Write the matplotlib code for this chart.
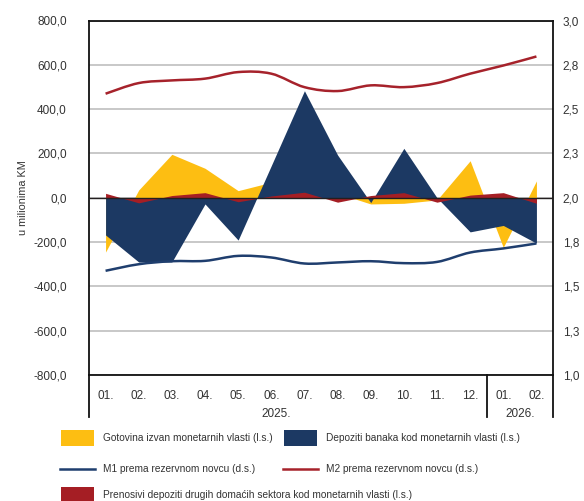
import matplotlib
matplotlib.use("Agg")
import matplotlib.pyplot as plt
import matplotlib.transforms as mtransforms
from matplotlib.path import Path
from matplotlib.patches import PathPatch, Rectangle
from matplotlib.lines import Line2D
import numpy as np

# months, 2025. (01.-12.) and 2026. (01.-02.)
months = ["01.", "02.", "03.", "04.", "05.", "06.", "07.", "08.", "09.", "10.",
          "11.", "12.", "01.", "02."]
years = ["2025.", "2026."]

# left axis, u milionima KM
gotovina = [-245, 35, 196, 133, 32, 70, 40, 20, -28, -25, -10, 167, -224, 76]
depoziti = [-168, -290, -290, -28, -191, 145, 483, 193, -22, 223, 0, -154, -125, -205]
prenosivi = [20, -23, 10, 23, -18, 8, 25, -20, 10, 23, -20, 12, 23, -25]

# right axis, multiplikatori
m1 = [1.588, 1.625, 1.642, 1.644, 1.672, 1.663, 1.629, 1.635, 1.642, 1.631,
      1.638, 1.691, 1.714, 1.742]
m2 = [2.587, 2.647, 2.662, 2.672, 2.709, 2.700, 2.624, 2.602, 2.634, 2.624,
      2.647, 2.700, 2.746, 2.797]

left_ticks = [-800, -600, -400, -200, 0, 200, 400, 600, 800]
right_ticks = [1.0, 1.25, 1.5, 1.75, 2.0, 2.25, 2.5, 2.75, 3.0]
right_labels = ["1,0", "1,3", "1,5", "1,8", "2,0", "2,3", "2,5", "2,8", "3,0"]

YELLOW = "#FDBE12"
NAVY = "#1C3963"
RED = "#A51E24"
TXT = "#333333"
FONT = ["Liberation Sans", "DejaVu Sans"]


def smooth_path(xs, ys):
    # bezier curve through the points, like Excel's smoothed line
    pts = np.column_stack([xs, ys]).astype(float)
    n = len(pts)
    verts = [pts[0]]
    codes = [Path.MOVETO]
    for i in range(n - 1):
        p0 = pts[i - 1] if i > 0 else pts[i]
        p1 = pts[i]
        p2 = pts[i + 1]
        p3 = pts[i + 2] if i + 2 < n else pts[i + 1]
        c1 = p1 + (p2 - p0) / 6.0
        c2 = p2 - (p3 - p1) / 6.0
        verts += [c1, c2, p2]
        codes += [Path.CURVE4] * 3
    return Path(verts, codes)


W, H = 584, 501
fig = plt.figure(figsize=(W / 100, H / 100), dpi=100)
ax = fig.add_axes([89 / W, 1 - 375 / H, (553 - 89) / W, (375 - 20.5) / H])

x = np.arange(len(months))
ax.fill_between(x, 0, gotovina, color=YELLOW, lw=0, zorder=2)
ax.fill_between(x, 0, depoziti, color=NAVY, lw=0, zorder=3)
ax.fill_between(x, 0, prenosivi, color=RED, lw=0, zorder=4)
ax.axhline(0, color="#231F20", lw=1.0, zorder=6)

ax.set_xlim(-0.5, len(months) - 0.5)
ax.set_ylim(-800, 800)
ax.set_yticks(left_ticks)
ax.set_yticklabels([f"{v:.1f}".replace(".", ",") for v in left_ticks],
                   family=FONT, fontsize=8.5, color=TXT)
ax.yaxis.grid(True, color="#BFBFBF", lw=1.2, zorder=0)
ax.set_axisbelow(True)
ax.tick_params(axis="y", length=0, pad=16)
ax.set_xticks(x)
ax.set_xticklabels(months, family=FONT, fontsize=8.5, color=TXT)
ax.tick_params(axis="x", length=0, pad=11)
for s in ax.spines.values():
    s.set_color("#111111")
    s.set_linewidth(1.3)

ax2 = ax.twinx()
ax2.set_ylim(1.0, 3.0)
ax2.set_yticks(right_ticks)
ax2.set_yticklabels(right_labels, family=FONT, fontsize=8.5, color=TXT)
ax2.tick_params(axis="y", length=0, pad=7)
for s in ax2.spines.values():
    s.set_visible(False)
ax2.add_patch(PathPatch(smooth_path(x, m1), fill=False, edgecolor="#1F3E6E",
                        lw=1.8, zorder=5))
ax2.add_patch(PathPatch(smooth_path(x, m2), fill=False, edgecolor="#A6222B",
                        lw=1.8, zorder=5))

# category table below the plot
trans = mtransforms.blended_transform_factory(ax.transData, ax.transAxes)
depth = -(417 - 375) / (375 - 20.5)
for xv in [-0.5, 11.5, len(months) - 0.5]:
    ax.add_line(Line2D([xv, xv], [0, depth], transform=trans, color="#111111",
                       lw=1.3, clip_on=False))
ax.text(5.15, -0.11, years[0], transform=trans, ha="center", va="center",
        family=FONT, fontsize=8.5, color=TXT)
ax.text(12.5, -0.11, years[1], transform=trans, ha="center", va="center",
        family=FONT, fontsize=8.5, color=TXT)

fig.text(23 / W, 1 - 198 / H, "u milionima KM", rotation=90, ha="center",
         va="center", family=FONT, fontsize=7.8, color=TXT)

# legend drawn by hand
def fx(px):
    return px / W


def fy(py):
    return 1 - py / H


def patch_item(x0, y0, h, color, label):
    fig.add_artist(Rectangle((fx(x0), fy(y0 + h)), 33 / W, h / H,
                             transform=fig.transFigure, color=color, lw=0))
    fig.text(fx(x0 + 42), fy(y0 + 8), label, ha="left", va="center",
             family=FONT, fontsize=7.3, color=TXT)


def line_item(x0, y0, color, label):
    fig.add_artist(Line2D([fx(x0), fx(x0 + 35)], [fy(y0), fy(y0)],
                          transform=fig.transFigure, color=color, lw=1.8))
    fig.text(fx(x0 + 43), fy(y0), label, ha="left", va="center",
             family=FONT, fontsize=7.3, color=TXT)


patch_item(61, 430, 16, YELLOW, "Gotovina izvan monetarnih vlasti (l.s.)")
patch_item(284, 430, 16, NAVY, "Depoziti banaka kod monetarnih vlasti (l.s.)")
line_item(60, 469, "#1F3E6E", "M1 prema rezervnom novcu (d.s.)")
line_item(283, 469, "#A6222B", "M2 prema rezervnom novcu (d.s.)")
patch_item(61, 487, 14, RED,
           "Prenosivi depoziti drugih domaćih sektora kod monetarnih vlasti (l.s.)")

fig.savefig("out.png", dpi=100)
